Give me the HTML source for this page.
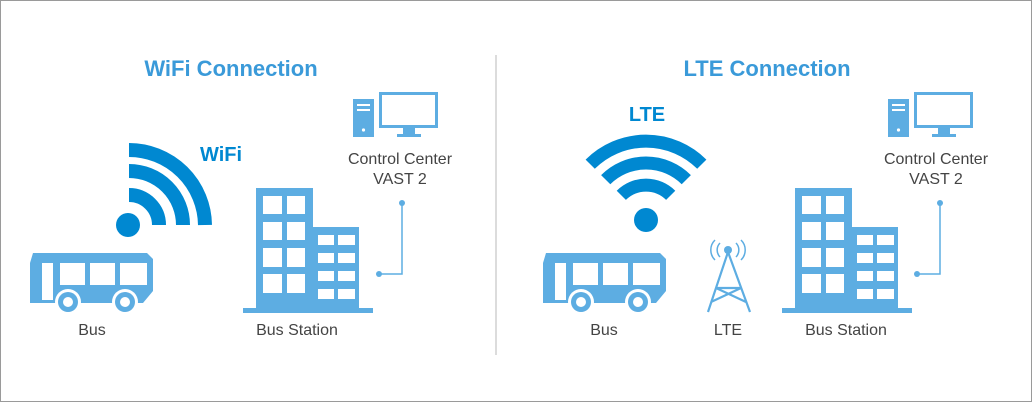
<!DOCTYPE html>
<html><head><meta charset="utf-8"><style>
html,body{margin:0;padding:0;background:#fff}
svg{display:block}
text{font-family:"Liberation Sans",sans-serif}
</style></head><body>
<svg width="1032" height="402" viewBox="0 0 1032 402" xmlns="http://www.w3.org/2000/svg">
<rect x="0.5" y="0.5" width="1031" height="401" fill="#fff" stroke="#9a9a9a"/>
<line x1="496" y1="55" x2="496" y2="355" stroke="#d0d0d0" stroke-width="1.5"/>
<text x="231" y="76" font-size="22" font-weight="bold" fill="#3a9ad9" text-anchor="middle">WiFi Connection</text>
<text x="767" y="76" font-size="22" font-weight="bold" fill="#3a9ad9" text-anchor="middle">LTE Connection</text>

<defs>
<g id="bus">
<path d="M0,10 L3,0 L117,0 L123,6 L123,38 L113,50 L0,50 Z" fill="#5dade2"/>
<rect x="12" y="10" width="11" height="37" fill="#fff"/>
<rect x="30" y="10" width="25" height="22" fill="#fff"/>
<rect x="60" y="10" width="25" height="22" fill="#fff"/>
<rect x="90" y="10" width="27" height="22" fill="#fff"/>
<circle cx="38" cy="49" r="13" fill="#fff"/><circle cx="38" cy="49" r="10" fill="#5dade2"/><circle cx="38" cy="49" r="5" fill="#fff"/>
<circle cx="95" cy="49" r="13" fill="#fff"/><circle cx="95" cy="49" r="10" fill="#5dade2"/><circle cx="95" cy="49" r="5" fill="#fff"/>
</g>
<g id="bldg">
<rect x="13" y="0" width="57" height="120" fill="#5dade2"/>
<rect x="70" y="39" width="46" height="81" fill="#5dade2"/>
<rect x="0" y="120" width="130" height="5" fill="#5dade2"/>
<g fill="#fff">
<rect x="20" y="8" width="19" height="18"/><rect x="44" y="8" width="18" height="18"/>
<rect x="20" y="34" width="19" height="18"/><rect x="44" y="34" width="18" height="18"/>
<rect x="20" y="60" width="19" height="19"/><rect x="44" y="60" width="18" height="19"/>
<rect x="20" y="86" width="19" height="19"/><rect x="44" y="86" width="18" height="19"/>
<rect x="75" y="47" width="16" height="10"/><rect x="95" y="47" width="17" height="10"/>
<rect x="75" y="65" width="16" height="10"/><rect x="95" y="65" width="17" height="10"/>
<rect x="75" y="83" width="16" height="10"/><rect x="95" y="83" width="17" height="10"/>
<rect x="75" y="101" width="16" height="10"/><rect x="95" y="101" width="17" height="10"/>
</g>
</g>
<g id="pc">
<rect x="0" y="7" width="21" height="38" fill="#5dade2"/>
<rect x="4" y="12" width="13" height="2" fill="#fff"/>
<rect x="4" y="17" width="13" height="2" fill="#fff"/>
<circle cx="10.5" cy="38" r="1.6" fill="#fff"/>
<rect x="27.5" y="1.5" width="56" height="33" fill="#fff" stroke="#5dade2" stroke-width="3"/>
<rect x="50" y="36" width="12" height="6" fill="#5dade2"/>
<rect x="44" y="42" width="24" height="3" fill="#5dade2"/>
</g>
<g id="conn">
<circle cx="23" cy="0" r="3" fill="#5dade2"/>
<polyline points="23,0 23,71 0,71" fill="none" stroke="#5dade2" stroke-width="1.5"/>
<circle cx="0" cy="71" r="3" fill="#5dade2"/>
</g>
</defs>

<!-- LEFT -->
<use href="#bus" x="30" y="253"/>
<use href="#bldg" x="243" y="188"/>
<use href="#pc" x="353" y="92"/>
<use href="#conn" x="379" y="203"/>
<g fill="none" stroke="#0088d1" stroke-width="14">
<path d="M129,195 A30,30 0 0 1 159,225"/>
<path d="M129,171 A54,54 0 0 1 183,225"/>
<path d="M129,150 A76,76 0 0 1 205,225"/>
</g>
<circle cx="128" cy="225" r="12" fill="#0088d1"/>
<text x="200" y="161" font-size="20" font-weight="bold" fill="#0088d1">WiFi</text>
<text x="400" y="164" font-size="16" fill="#444" text-anchor="middle">Control Center</text>
<text x="400" y="184" font-size="16" fill="#444" text-anchor="middle">VAST 2</text>
<text x="92" y="335" font-size="16" fill="#444" text-anchor="middle">Bus</text>
<text x="297" y="335" font-size="16" fill="#444" text-anchor="middle">Bus Station</text>

<!-- RIGHT -->
<use href="#bus" x="543" y="253"/>
<use href="#bldg" x="782" y="188"/>
<use href="#pc" x="888" y="92"/>
<use href="#conn" x="917" y="203"/>
<g fill="none" stroke="#0088d1" stroke-width="13" transform="translate(646,220)">
<path d="M-24.7,-24.7 A35,35 0 0 1 24.7,-24.7"/>
<path d="M-40.3,-40.3 A57,57 0 0 1 40.3,-40.3"/>
<path d="M-55.8,-55.8 A79,79 0 0 1 55.8,-55.8"/>
</g>
<circle cx="646" cy="220" r="12" fill="#0088d1"/>
<text x="647" y="121" font-size="20" font-weight="bold" fill="#0088d1" text-anchor="middle">LTE</text>
<!-- tower -->
<g stroke="#5dade2" fill="none" stroke-width="2.2">
<path d="M728,252 L708,312 M728,252 L750,312 M716,288 L741,288 M716,288 L746,302 M741,288 L711,302"/>
<path d="M720,243 a10,10 0 0 0 0,14 M736,243 a10,10 0 0 1 0,14" stroke-width="1.5"/>
<path d="M715,240 a14,14 0 0 0 0,20 M741,240 a14,14 0 0 1 0,20" stroke-width="1.5"/>
</g>
<circle cx="728" cy="250" r="4" fill="#5dade2"/>
<text x="936" y="164" font-size="16" fill="#444" text-anchor="middle">Control Center</text>
<text x="936" y="184" font-size="16" fill="#444" text-anchor="middle">VAST 2</text>
<text x="604" y="335" font-size="16" fill="#444" text-anchor="middle">Bus</text>
<text x="728" y="335" font-size="16" fill="#444" text-anchor="middle">LTE</text>
<text x="846" y="335" font-size="16" fill="#444" text-anchor="middle">Bus Station</text>
</svg>
</body></html>
